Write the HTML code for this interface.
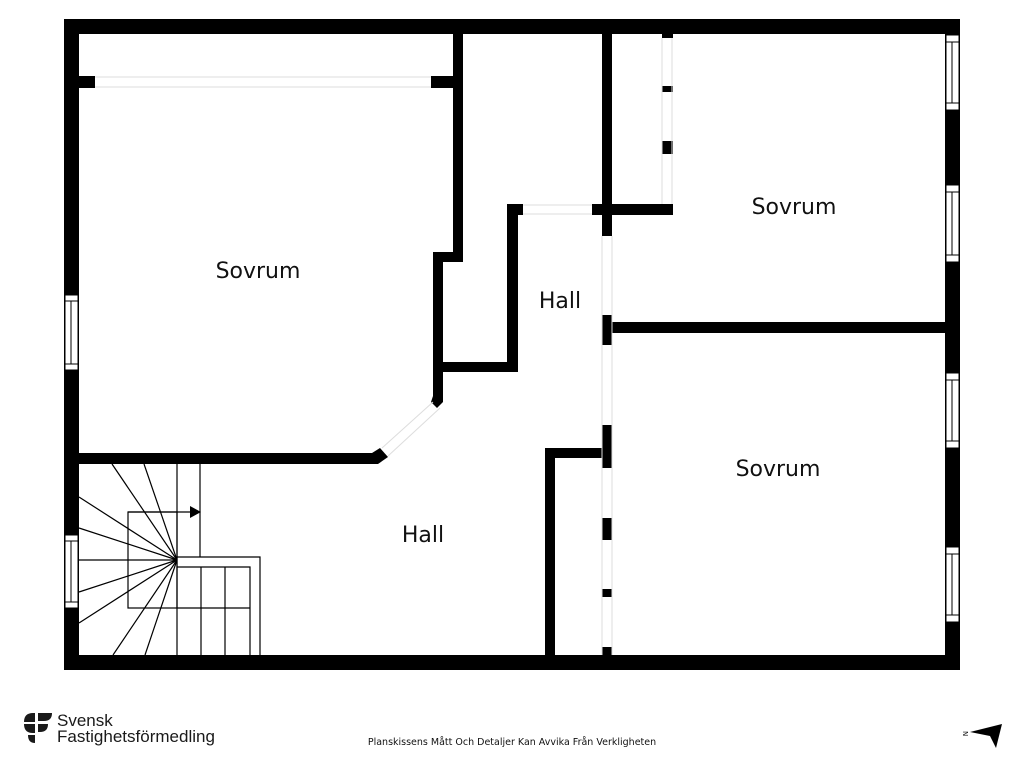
<!DOCTYPE html>
<html><head><meta charset="utf-8"><style>
html,body{margin:0;padding:0;background:#fff;width:1024px;height:768px;overflow:hidden}
svg{display:block}
</style></head><body>
<svg width="1024" height="768" viewBox="0 0 1024 768" xmlns="http://www.w3.org/2000/svg">
<g fill="#000">
<rect x="64" y="19" width="896" height="15"/>
<rect x="64" y="655" width="896" height="15"/>
<rect x="64" y="19" width="15" height="651"/>
<rect x="945" y="19" width="15" height="651"/>
<rect x="453" y="34" width="10" height="228"/>
<rect x="433" y="252" width="30" height="10"/>
<rect x="433" y="252" width="10" height="148"/>
<rect x="79" y="76" width="16" height="12"/>
<rect x="431" y="76" width="22" height="12"/>
<rect x="79" y="453" width="297" height="11"/>
<polygon points="372,453 380,448 388,457 378,464 372,464"/>
<polygon points="433,396 443,396 443,402 437,408 431,402"/>
<rect x="602" y="34" width="10" height="202"/>
<rect x="592" y="204" width="81" height="11"/>
<rect x="507" y="204" width="16" height="11"/>
<rect x="507" y="204" width="11" height="168"/>
<rect x="443" y="362" width="75" height="10"/>
<rect x="602" y="315" width="10" height="30"/>
<rect x="612" y="322" width="333" height="11"/>
<rect x="602" y="425" width="10" height="43"/>
<rect x="545" y="448" width="67" height="10"/>
<rect x="545" y="448" width="10" height="207"/>
<rect x="602" y="518" width="10" height="22"/>
<rect x="602" y="589" width="10" height="8"/>
<rect x="602" y="647" width="10" height="8"/>
<rect x="662" y="34" width="11" height="4"/>
<rect x="662" y="86" width="11" height="6"/>
<rect x="662" y="141" width="11" height="13"/>
</g>
<g stroke="#ddd" stroke-width="1" fill="none">
<line x1="95" y1="77" x2="431" y2="77"/><line x1="95" y1="87" x2="431" y2="87"/>
<line x1="523" y1="205" x2="592" y2="205"/><line x1="523" y1="214" x2="592" y2="214"/>
<line x1="602" y1="236" x2="602" y2="655"/><line x1="612" y1="236" x2="612" y2="655"/>
<line x1="662" y1="38" x2="662" y2="204"/><line x1="672" y1="38" x2="672" y2="204"/>
<line x1="382" y1="448" x2="433" y2="402"/><line x1="388" y1="456" x2="440" y2="408"/>
</g>
<g fill="#fff" stroke="#000" stroke-width="1">
<rect x="65" y="295" width="13" height="75"/>
<rect x="65" y="535" width="13" height="73"/>
<rect x="946" y="35" width="13" height="75"/>
<rect x="946" y="185" width="13" height="77"/>
<rect x="946" y="373" width="13" height="75"/>
<rect x="946" y="547" width="13" height="75"/>
</g>
<g stroke="#000" stroke-width="1">
<line x1="65" y1="301" x2="78" y2="301"/><line x1="65" y1="364" x2="78" y2="364"/><line x1="71" y1="301" x2="71" y2="364"/>
<line x1="65" y1="541" x2="78" y2="541"/><line x1="65" y1="602" x2="78" y2="602"/><line x1="71" y1="541" x2="71" y2="602"/>
<line x1="946" y1="42" x2="959" y2="42"/><line x1="946" y1="103" x2="959" y2="103"/><line x1="952" y1="42" x2="952" y2="103"/>
<line x1="946" y1="192" x2="959" y2="192"/><line x1="946" y1="255" x2="959" y2="255"/><line x1="952" y1="192" x2="952" y2="255"/>
<line x1="946" y1="380" x2="959" y2="380"/><line x1="946" y1="441" x2="959" y2="441"/><line x1="952" y1="380" x2="952" y2="441"/>
<line x1="946" y1="554" x2="959" y2="554"/><line x1="946" y1="615" x2="959" y2="615"/><line x1="952" y1="554" x2="952" y2="615"/>
</g>
<g stroke="#000" stroke-width="1.2" fill="none">
<line x1="177" y1="464" x2="177" y2="655"/>
<line x1="200" y1="464" x2="200" y2="557"/>
<rect x="128" y="512" width="49" height="96"/>
<line x1="128" y1="512" x2="192" y2="512"/>
<polyline points="177,557 260,557 260,655"/>
<polyline points="177,567 250,567 250,655"/>
<line x1="201" y1="567" x2="201" y2="655"/>
<line x1="225" y1="567" x2="225" y2="655"/>
<line x1="177" y1="608" x2="250" y2="608"/>
<line x1="177" y1="560" x2="112" y2="464"/>
<line x1="177" y1="560" x2="144" y2="464"/>
<line x1="177" y1="560" x2="79" y2="497"/>
<line x1="177" y1="560" x2="79" y2="528"/>
<line x1="177" y1="560" x2="79" y2="560"/>
<line x1="177" y1="560" x2="79" y2="592"/>
<line x1="177" y1="560" x2="79" y2="623"/>
<line x1="177" y1="560" x2="113" y2="655"/>
<line x1="177" y1="560" x2="145" y2="655"/>
</g>
<polygon points="190,506 201,512 190,518" fill="#000"/>
<g font-family="'DejaVu Sans','Liberation Sans',sans-serif" font-size="22" fill="#111" text-anchor="middle">
<text x="258" y="278">Sovrum</text>
<text x="794" y="214">Sovrum</text>
<text x="778" y="476">Sovrum</text>
<text x="560" y="308">Hall</text>
<text x="423" y="542">Hall</text>
</g>
<text x="512" y="745" font-family="'DejaVu Sans','Liberation Sans',sans-serif" font-size="9.5" fill="#111" text-anchor="middle">Planskissens Mått Och Detaljer Kan Avvika Från Verkligheten</text>
<g fill="#1a1a1a">
<path d="M24 722 q0 -9 9 -9 h2 v9 z"/>
<path d="M24 724 h11 v9 h-2 q-9 0 -9 -9z"/>
<path d="M38 713 h14 q0 8 -8 8 h-6z"/>
<path d="M38 724 h10 q0 8 -8 8 h-2z"/>
<path d="M28 735 h7 v8 q-7 0 -7 -8z"/>
</g>
<g font-family="'Liberation Sans',sans-serif" font-size="17" fill="#1a1a1a">
<text x="57" y="726">Svensk</text>
<text x="57" y="742" textLength="158" lengthAdjust="spacingAndGlyphs">Fastighetsförmedling</text>
</g>
<polygon points="970,732 1002,724 996,748 990,736" fill="#000"/>
<text x="963" y="731" font-family="'DejaVu Sans',sans-serif" font-size="7" fill="#000" transform="rotate(90 963 731)">N</text>
</svg>
</body></html>
